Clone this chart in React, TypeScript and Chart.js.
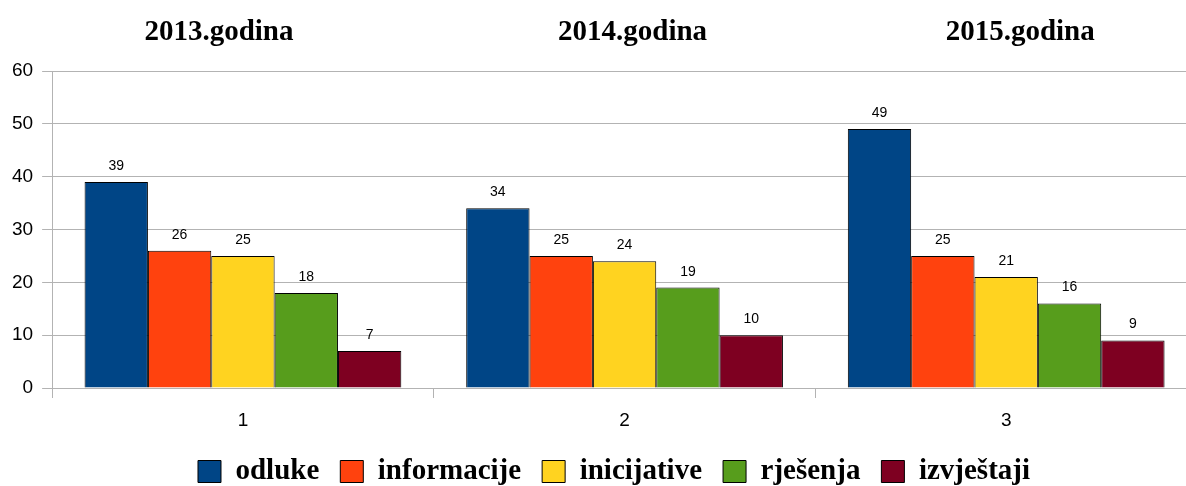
import React, { useEffect, useRef } from "react";
import { Chart, registerables } from "chart.js";

Chart.register(...registerables);

const categories = ["1", "2", "3"];
const yearTitles = ["2013.godina", "2014.godina", "2015.godina"];
const titleOffsets = [-24, 8, 14];

const seriesNames = ["odluke", "informacije", "inicijative", "rješenja", "izvještaji"];
const odluke = [39, 34, 49];
const informacije = [26, 25, 25];
const inicijative = [25, 24, 21];
const rjesenja = [18, 19, 16];
const izvjestaji = [7, 10, 9];
const seriesColors = ["#004586", "#ff420e", "#ffd320", "#579d1c", "#7e0021"];

const yTicks = [0, 10, 20, 30, 40, 50, 60];

const GRID = "#b3b3b3";
const SANS = "'Liberation Sans', Arial, sans-serif";
const SERIF = "'Liberation Serif', 'Times New Roman', serif";

export default function App() {
  const ref = useRef<HTMLCanvasElement | null>(null);

  useEffect(() => {
    document.body.style.margin = "0";
    const canvas = ref.current;
    if (!canvas) return;
    const values = [odluke, informacije, inicijative, rjesenja, izvjestaji];

    const titlesPlugin = {
      id: "yearTitles",
      afterDraw(chart: any) {
        const ctx = chart.ctx;
        const xs = chart.scales.x;
        ctx.save();
        ctx.font = `bold 29px ${SERIF}`;
        ctx.fillStyle = "#000";
        ctx.textAlign = "center";
        ctx.textBaseline = "alphabetic";
        yearTitles.forEach((t, i) => {
          ctx.fillText(t, xs.getPixelForValue(i) + titleOffsets[i], 40);
        });
        ctx.restore();
      },
    };

    const valueLabels = {
      id: "valueLabels",
      afterDatasetsDraw(chart: any) {
        const ctx = chart.ctx;
        ctx.save();
        ctx.font = `14px ${SANS}`;
        ctx.fillStyle = "#000";
        ctx.textAlign = "center";
        ctx.textBaseline = "alphabetic";
        chart.data.datasets.forEach((ds: any, di: number) => {
          const meta = chart.getDatasetMeta(di);
          meta.data.forEach((el: any, i: number) => {
            ctx.fillText(String(ds.data[i]), el.x, el.y - 12);
          });
        });
        ctx.restore();
      },
    };

    // centre the legend under the full plot width (plot runs past the right edge)
    const legendShift = {
      id: "legendShift",
      afterLayout(chart: any) {
        const lg = chart.legend;
        if (lg) {
          lg.left = 31;
          lg.right = chart.chartArea.right;
          lg.width = lg.right - lg.left;
        }
      },
    };

    const chart = new Chart(canvas, {
      type: "bar",
      data: {
        labels: categories,
        datasets: seriesNames.map((name, i) => ({
          label: name,
          data: values[i],
          backgroundColor: seriesColors[i],
          borderColor: "#000",
          borderWidth: 1,
          categoryPercentage: 0.83,
          barPercentage: 1,
        })),
      },
      options: {
        responsive: false,
        animation: false,
        layout: { padding: { left: 3, right: 31, top: 71, bottom: 0 } },
        plugins: {
          tooltip: { enabled: false },
          title: { display: false },
          legend: {
            position: "bottom",
            labels: {
              boxWidth: 23,
              boxHeight: 22,
              padding: 21,
              color: "#000",
              font: { family: SERIF, size: 29, weight: "bold" },
            },
          },
        },
        scales: {
          x: {
            afterFit(scale: any) {
              scale.height = 48;
            },
            grid: {
              drawOnChartArea: false,
              color: GRID,
              tickLength: 10,
              offset: true,
            },
            border: { color: GRID },
            ticks: {
              color: "#000",
              padding: 11,
              font: { family: SANS, size: 19 },
            },
          },
          y: {
            min: 0,
            max: 60,
            afterBuildTicks(scale: any) {
              scale.ticks = yTicks.map((v) => ({ value: v }));
            },
            grid: { color: GRID, tickLength: 10 },
            border: { color: GRID },
            ticks: {
              color: "#000",
              padding: 9,
              font: { family: SANS, size: 19 },
            },
          },
        },
      },
      plugins: [titlesPlugin, valueLabels, legendShift],
    });

    return () => chart.destroy();
  }, []);

  return (
    <div
      style={{
        position: "fixed",
        left: 0,
        top: 0,
        width: 1186,
        height: 486,
        overflow: "hidden",
        background: "#fff",
      }}
    >
      <canvas ref={ref} width={1228} height={496} style={{ width: 1228, height: 496, display: "block" }} />
    </div>
  );
}
